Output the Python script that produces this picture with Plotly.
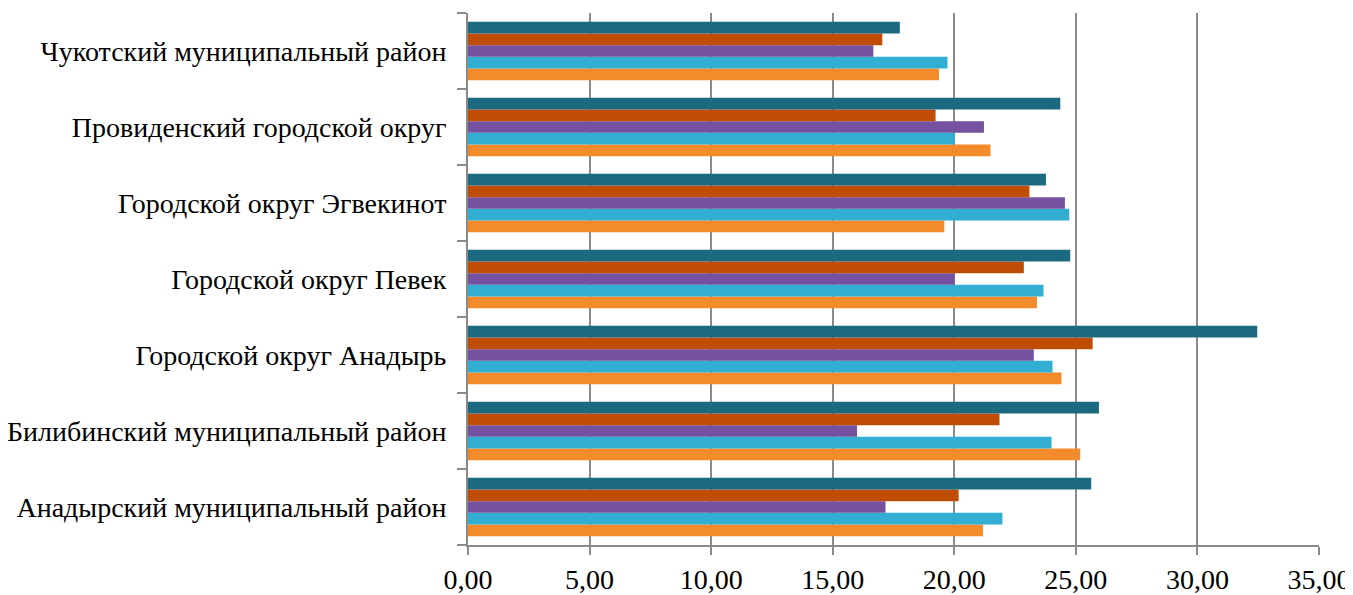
import plotly.graph_objects as go

categories = [
    "Анадырский муниципальный район",
    "Билибинский муниципальный район",
    "Городской округ Анадырь",
    "Городской округ Певек",
    "Городской округ Эгвекинот",
    "Провиденский городской округ",
    "Чукотский муниципальный район",
]

# series listed bottom-to-top within each group
series_orange = [21.18, 25.18, 24.41, 23.40, 19.59, 21.49, 19.37]
series_cyan   = [21.98, 24.00, 24.04, 23.67, 24.73, 20.02, 19.72]
series_purple = [17.17, 16.00, 23.27, 20.02, 24.55, 21.22, 16.67]
series_brown  = [20.18, 21.86, 25.69, 22.86, 23.09, 19.23, 17.04]
series_teal   = [25.63, 25.95, 32.46, 24.77, 23.77, 24.36, 17.76]

series_names = ["Ряд 1", "Ряд 2", "Ряд 3", "Ряд 4", "Ряд 5"]
series_values = [series_orange, series_cyan, series_purple, series_brown, series_teal]
series_colors = ["#F48B2A", "#31AED1", "#7552A0", "#BF4D06", "#1C6A80"]

x_ticks = [0, 5, 10, 15, 20, 25, 30, 35]

fig = go.Figure()
for name, vals, col in zip(series_names, series_values, series_colors):
    fig.add_trace(go.Bar(
        y=categories, x=vals, name=name, orientation="h",
        marker=dict(color=col, line=dict(width=0)),
    ))

fig.update_layout(
    barmode="group",
    bargap=0.23,
    bargroupgap=0,
    showlegend=False,
    width=1345, height=587,
    margin=dict(l=460, r=34, t=5, b=50, autoexpand=False),
    paper_bgcolor="white",
    plot_bgcolor="white",
    separators=", ",
    font=dict(family="Liberation Serif, Times New Roman, serif", size=28, color="#000000"),
)
fig.update_xaxes(
    range=[0, 35], tickvals=x_ticks, tickformat=".2f",
    showgrid=True, gridcolor="#8A8A8A", gridwidth=2,
    showline=True, linecolor="#8A8A8A", linewidth=2,
    ticks="outside", ticklen=8, tickcolor="#8A8A8A", tickwidth=2,
    zeroline=False, automargin=False,
    tickfont=dict(size=28),
)
fig.update_yaxes(
    type="category", categoryorder="array", categoryarray=categories,
    tickson="boundaries",
    showline=True, linecolor="#8A8A8A", linewidth=2,
    ticks="outside", ticklen=9, tickcolor="#8A8A8A", tickwidth=2,
    showgrid=False, automargin=False,
    tickfont=dict(size=28),
    ticklabelstandoff=14,
)

fig.write_html("out.html")
